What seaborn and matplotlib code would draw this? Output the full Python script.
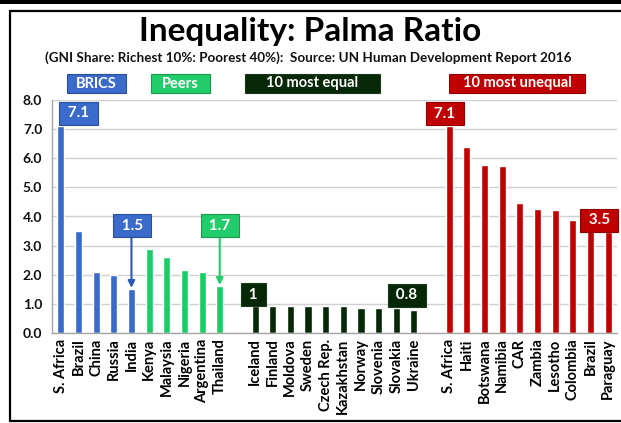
import numpy as np
import pandas as pd
import matplotlib
matplotlib.use("Agg")
import matplotlib.pyplot as plt
import seaborn as sns
from matplotlib.patches import Rectangle
from matplotlib.lines import Line2D

# ---------------- data ----------------
brics = ["S. Africa", "Brazil", "China", "Russia", "India"]
brics_vals = [7.1, 3.5, 2.1, 2.0, 1.5]
peers = ["Kenya", "Malaysia", "Nigeria", "Argentina", "Thailand"]
peers_vals = [2.9, 2.6, 2.15, 2.1, 1.6]
equal = ["Iceland", "Finland", "Moldova", "Sweden", "Czech Rep.", "Kazakhstan",
         "Norway", "Slovenia", "Slovakia", "Ukraine"]
equal_vals = [0.94, 0.94, 0.94, 0.91, 0.91, 0.91, 0.86, 0.86, 0.86, 0.80]
unequal = ["S. Africa", "Haiti", "Botswana", "Namibia", "CAR", "Zambia",
           "Lesotho", "Colombia", "Brazil", "Paraguay"]
unequal_vals = [7.1, 6.4, 5.78, 5.74, 4.46, 4.26, 4.22, 3.88, 3.49, 3.46]

group_names = ["BRICS", "Peers", "10 most equal", "10 most unequal"]
group_colors = ["#3A6BCB", "#19CC66", "#062806", "#C00000"]
box_colors = ["#3A6BCB", "#22CC6A", "#062806", "#C00000"]
box_edges = ["#2A4F96", "#159A4E", "#1A3A1A", "#8E0000"]

# value call-outs: (group index, item index, text)
callouts = [(0, 0, "7.1"), (0, 4, "1.5"), (1, 4, "1.7"),
            (2, 0, "1"), (2, 9, "0.8"), (3, 0, "7.1"), (3, 8, "3.5")]

# ---------------- build table ----------------
rows = []
slot = 0
slot_of = {}
groups = [(brics, brics_vals), (peers, peers_vals), (equal, equal_vals), (unequal, unequal_vals)]
labels = []
for gi, (names, vals) in enumerate(groups):
    if gi >= 2:
        labels.append("")
        slot += 1
    for ii, (n, v) in enumerate(zip(names, vals)):
        rows.append({"slot": slot, "country": n, "value": v, "group": group_names[gi]})
        slot_of[(gi, ii)] = slot
        labels.append(n)
        slot += 1
n_slots = slot
df = pd.DataFrame(rows)

# ---------------- figure ----------------
sns.set_theme(style="white")
plt.rcParams["font.family"] = ["Lato", "DejaVu Sans"]
W, H = 621, 423
fig = plt.figure(figsize=(W / 100, H / 100), dpi=100)
ax = fig.add_axes([52 / W, 1 - 333 / H, (617 - 52) / W, (333 - 100) / H])

sns.barplot(data=df, x="slot", y="value", hue="group", order=list(range(n_slots)),
            hue_order=group_names, palette=group_colors, dodge=False, width=0.4,
            legend=False, ax=ax, saturation=1)

ax.set_xlim(-0.5, n_slots - 0.5)
ax.set_ylim(0, 8)
ax.set_yticks(np.arange(0, 8.01, 1.0))
ax.set_yticklabels([f"{v:.1f}" for v in np.arange(0, 8.01, 1.0)],
                   fontsize=10, fontweight="bold", color="#111111")
ax.set_xticks(range(n_slots))
ax.set_xticklabels(labels, rotation=90, fontsize=10.5, fontweight="bold", color="#000000")
ax.set_xticks(np.arange(-0.5, n_slots, 1.0), minor=True)
ax.tick_params(axis="x", which="major", length=0, pad=4)
ax.tick_params(axis="x", which="minor", length=4, color="#A6A6A6", width=1, direction="out")
ax.tick_params(axis="y", which="major", length=4, color="#A6A6A6", width=1, direction="out", pad=3)
ax.set_xlabel("")
ax.set_ylabel("")
ax.yaxis.grid(True, color="#D0D0D0", linewidth=1)
ax.set_axisbelow(True)
for s in ["top", "right"]:
    ax.spines[s].set_visible(False)
for s in ["left", "bottom"]:
    ax.spines[s].set_color("#A6A6A6")
    ax.spines[s].set_linewidth(1)

# ---------------- call-out boxes ----------------
offsets = {  # (dx slots, y of box centre) relative placement
    (0, 0): (1.0, 0.45),
    (0, 4): (0.05, None),
    (1, 4): (0.0, None),
    (2, 0): (-0.1, 0.38),
    (2, 9): (-0.4, 0.49),
    (3, 0): (-0.25, 0.43),
    (3, 8): (0.5, 0.38),
}
for gi, ii, txt in callouts:
    s = slot_of[(gi, ii)]
    v = groups[gi][1][ii]
    dx, dy = offsets[(gi, ii)]
    bb = dict(boxstyle="square,pad=0.3", fc=box_colors[gi], ec=box_edges[gi], lw=0.8)
    if dy is None:
        ybox = 3.68
        ax.annotate("", xy=(s, v + 0.05), xytext=(s, ybox - 0.35),
                    arrowprops=dict(arrowstyle="-|>", color=box_colors[gi] if gi else "#2A5AB8",
                                    lw=1.5, mutation_scale=10, shrinkA=0, shrinkB=0))
        ax.text(s + dx, ybox, f" {txt} ", ha="center", va="center", color="white",
                fontsize=11, fontweight="bold", bbox=bb, zorder=5)
    else:
        ax.text(s + dx, v + dy, f" {txt} ", ha="center", va="center", color="white",
                fontsize=11, fontweight="bold", bbox=bb, zorder=5)

# ---------------- legend boxes ----------------
leg_pos = [(67, 126), (151, 210), (245, 380), (449, 585)]
for gi, (x0, x1) in enumerate(leg_pos):
    r = Rectangle((x0 / W, 1 - 93 / H), (x1 - x0) / W, 19 / H, transform=fig.transFigure,
                  fc=box_colors[gi], ec=box_edges[gi], lw=0.8)
    fig.patches.append(r)
    fig.text((x0 + x1) / 2 / W, 1 - 83.5 / H, group_names[gi], ha="center", va="center",
             color="white", fontsize=10.5, fontweight="bold")

# ---------------- titles ----------------
fig.text(0.5, 1 - 31 / H, "Inequality: Palma Ratio", ha="center", va="center",
         fontsize=24, fontweight="bold", color="black")
fig.text(0.497, 1 - 58 / H,
         "(GNI Share: Richest 10%: Poorest 40%):  Source: UN Human Development Report 2016",
         ha="center", va="center", fontsize=9.7, fontweight="bold", color="#111111")

# ---------------- frame ----------------
fig.patches.append(Rectangle((0, 1 - 4 / H), 1, 4 / H, transform=fig.transFigure,
                             fc="black", ec="none"))
for xs, ys in [((10, W), (11, 11)), ((10, 10), (11, 421)), ((10, W), (421, 421))]:
    fig.lines.append(Line2D([x / W for x in xs], [1 - y / H for y in ys],
                            transform=fig.transFigure, color="black", lw=1.6))

fig.savefig("out.png", dpi=100)
